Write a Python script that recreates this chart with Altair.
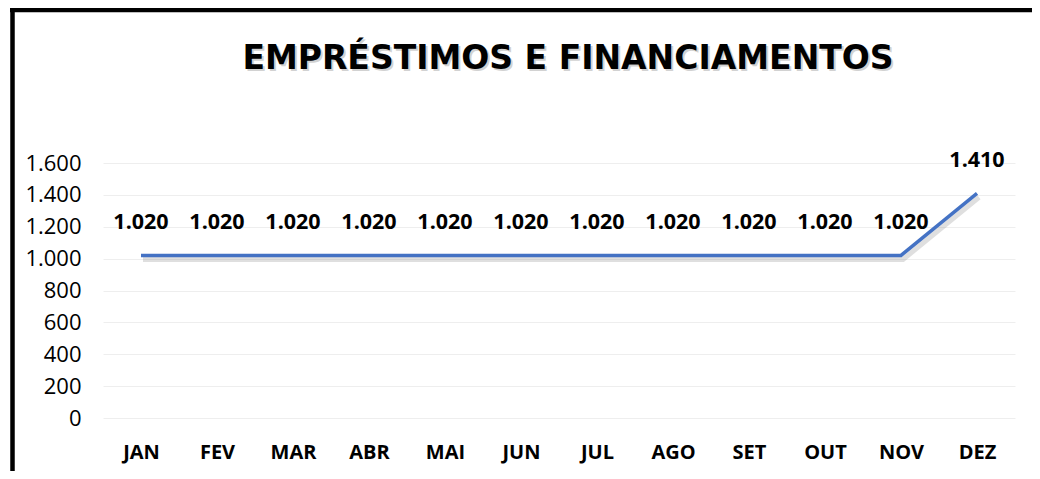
import altair as alt
import pandas as pd

months = ["JAN", "FEV", "MAR", "ABR", "MAI", "JUN", "JUL", "AGO", "SET", "OUT", "NOV", "DEZ"]
values = [1020, 1020, 1020, 1020, 1020, 1020, 1020, 1020, 1020, 1020, 1020, 1410]
y_ticks = [0, 200, 400, 600, 800, 1000, 1200, 1400, 1600]
title_text = "EMPRÉSTIMOS E FINANCIAMENTOS"

df = pd.DataFrame({"mes": months, "valor": values})

x_enc = alt.X(
    "mes:N",
    sort=months,
    scale=alt.Scale(padding=0.5),
    axis=alt.Axis(
        title=None, labelAngle=0, domain=False, ticks=False, grid=False,
        labelFont="Open Sans", labelFontSize=20, labelFontWeight="bold",
        labelColor="#000000", labelPadding=24,
    ),
)
y_enc = alt.Y(
    "valor:Q",
    scale=alt.Scale(domain=[0, 1600], nice=False),
    axis=alt.Axis(
        title=None, values=y_ticks, domain=False, ticks=False, grid=True,
        gridColor="#eeeeee", gridWidth=1,
        labelFont="Open Sans", labelFontSize=22, labelColor="#000000",
        labelPadding=22,
        labelExpr="replace(format(datum.value, ','), ',', '.')",
    ),
)

base = alt.Chart(df).encode(x=x_enc, y=y_enc)

shadow = base.mark_line(color="#7f7f7f", opacity=0.25, strokeWidth=5, xOffset=2, yOffset=4)
line = base.mark_line(color="#4472C4", strokeWidth=3.5)
labels = base.transform_calculate(
    lbl="replace(format(datum.valor, ','), ',', '.')"
).mark_text(
    font="Open Sans", fontSize=21.5, fontWeight="bold", color="#000000",
    dy=-32, baseline="middle", align="center",
).encode(text="lbl:N")

deco = alt.Chart(pd.DataFrame({"k": [0]}))
title_shadow = deco.mark_text(
    font="DejaVu Sans", fontSize=33, fontWeight="bold", color="#808080",
    opacity=0.35, align="center", baseline="alphabetic",
).encode(x=alt.value(467), y=alt.value(-92), text=alt.value(title_text))
title = deco.mark_text(
    font="DejaVu Sans", fontSize=33, fontWeight="bold", color="#000000",
    align="center", baseline="alphabetic",
).encode(x=alt.value(465), y=alt.value(-94), text=alt.value(title_text))
border_top = deco.mark_rule(color="#000000", strokeWidth=4.5).encode(
    x=alt.value(-93), x2=alt.value(940), y=alt.value(-153)
)
border_left = deco.mark_rule(color="#000000", strokeWidth=4.5).encode(
    x=alt.value(-90.5), y=alt.value(-155), y2=alt.value(320)
)

chart = alt.layer(
    shadow, line, labels, title_shadow, title, border_top, border_left
).properties(
    width=912,
    height=255,
    padding={"left": 95, "top": 155, "right": 17, "bottom": 53},
    autosize=alt.AutoSizeParams(type="none"),
    background="#ffffff",
).configure_view(strokeWidth=0)

chart.save("out.html", embed_options={"renderer": "svg", "actions": False})
